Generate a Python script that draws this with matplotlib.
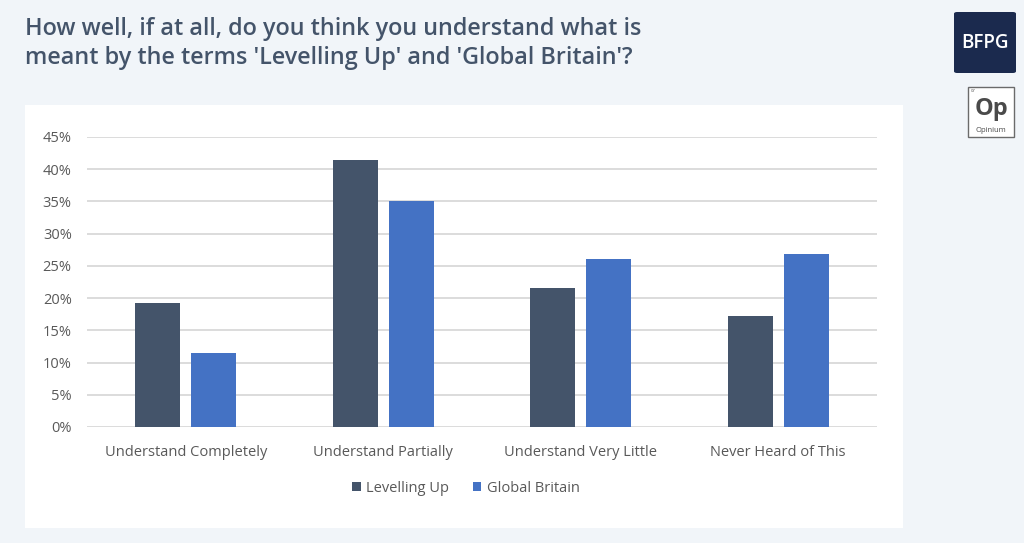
import matplotlib
matplotlib.use("Agg")
import matplotlib.pyplot as plt
from matplotlib.patches import Rectangle, FancyBboxPatch
from matplotlib.ticker import PercentFormatter
import numpy as np

categories = ["Understand Completely", "Understand Partially",
              "Understand Very Little", "Never Heard of This"]
levelling_up = [19.2, 41.4, 21.6, 17.2]
global_britain = [11.5, 35.1, 26.0, 26.8]
series_names = ["Levelling Up", "Global Britain"]
y_ticks = [0, 5, 10, 15, 20, 25, 30, 35, 40, 45]

title = "How well, if at all, do you think you understand what is\nmeant by the terms 'Levelling Up' and 'Global Britain'?"

BG = "#f1f5f9"
DARK = "#44546a"
BLUE = "#4472c4"
TXT = "#595959"
GRID = "#d9d9d9"
FONT = "Open Sans"

W, H = 1024, 543
fig = plt.figure(figsize=(W / 100, H / 100), dpi=100)
fig.patch.set_facecolor(BG)

def fx(px):
    return px / W

def fy(py):
    return 1 - py / H

# White chart panel
fig.patches.append(Rectangle((fx(25), fy(528)), fx(903) - fx(25), fy(105) - fy(528),
                             transform=fig.transFigure, facecolor="white",
                             edgecolor="none", zorder=0))

# Title
fig.text(fx(25), fy(17), title, ha="left", va="top", fontsize=16.8,
         fontweight="semibold", color=DARK, family=FONT, linespacing=1.25)

# BFPG logo
fig.patches.append(FancyBboxPatch((fx(954), fy(73)), fx(1016) - fx(954), fy(12) - fy(73),
                                  boxstyle="round,pad=0.0,rounding_size=0.003",
                                  transform=fig.transFigure, facecolor="#1b2a4e",
                                  edgecolor="none", zorder=1))
fig.text(fx(985), fy(43), "BFPG", ha="center", va="center", fontsize=13.5,
         fontweight="semibold", color="white", family=FONT, zorder=2)

# Opinium logo
fig.patches.append(Rectangle((fx(968), fy(137)), fx(1014) - fx(968), fy(87) - fy(137),
                             transform=fig.transFigure, facecolor="white",
                             edgecolor="#6b6b6b", linewidth=1.0, zorder=1))
fig.text(fx(991), fy(109), "Op", ha="center", va="center", fontsize=17,
         fontweight="bold", color="#4a4a4a", family=FONT, zorder=2)
fig.text(fx(991), fy(131), "Opinium", ha="center", va="center", fontsize=5.5,
         color="#4a4a4a", family=FONT, zorder=2)
fig.text(fx(971), fy(91), "07", ha="left", va="center", fontsize=3,
         color="#4a4a4a", family=FONT, zorder=2)

# Bar chart
ax = fig.add_axes([fx(87), fy(427), fx(877) - fx(87), fy(137) - fy(427)])
ax.set_zorder(3)
ax.set_facecolor("none")
x = np.arange(len(categories))
bw = 0.228
off = 0.142
ax.bar(x - off, levelling_up, bw, color=DARK, label=series_names[0], zorder=3)
ax.bar(x + off, global_britain, bw, color=BLUE, label=series_names[1], zorder=3)

ax.set_xlim(-0.5, len(categories) - 0.5)
ax.set_ylim(0, 45)
ax.set_yticks(y_ticks)
ax.yaxis.set_major_formatter(PercentFormatter(decimals=0))
ax.set_xticks(x)
ax.set_xticklabels(categories)
ax.grid(axis="y", color=GRID, linewidth=1.3, zorder=0)
ax.set_axisbelow(True)
for s in ax.spines.values():
    s.set_visible(False)
ax.tick_params(length=0, labelsize=10.5, labelcolor=TXT)
ax.tick_params(axis="y", pad=11)
ax.tick_params(axis="x", pad=13)
for lbl in ax.get_xticklabels() + ax.get_yticklabels():
    lbl.set_family(FONT)

leg = fig.legend(loc="center", bbox_to_anchor=(fx(466), fy(488)), ncol=2,
                 frameon=False, handlelength=0.6, handleheight=0.6,
                 handletextpad=0.4, columnspacing=1.6,
                 prop={"family": FONT, "size": 10.5})
leg.set_zorder(4)
for t in leg.get_texts():
    t.set_color(TXT)

fig.savefig("out.png", dpi=100, facecolor=BG)
